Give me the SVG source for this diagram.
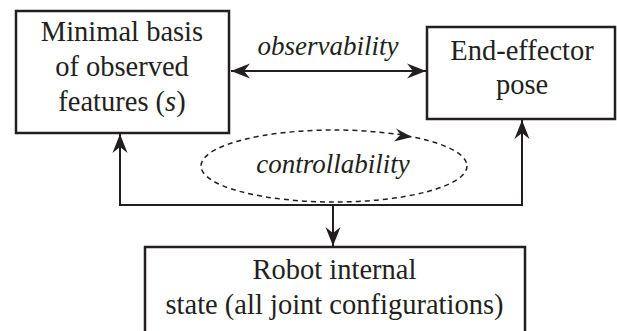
<svg xmlns="http://www.w3.org/2000/svg" width="617" height="331" viewBox="0 0 617 331">
<rect width="617" height="331" fill="#fff"/>
<defs>
<marker id="ah" markerUnits="userSpaceOnUse" markerWidth="22" markerHeight="18" viewBox="-19 -9 22 18" refX="0" refY="0" orient="auto-start-reverse">
<path d="M0,0 L-19,-7.5 L-13,0 L-19,7.5 Z" fill="#231f20"/>
</marker>
</defs>
<g id="connectors" fill="none" stroke="#231f20" stroke-width="2">
<line x1="231" y1="71" x2="426" y2="71" marker-start="url(#ah)" marker-end="url(#ah)"/>
<path d="M120,134 V205 H522 V120" marker-start="url(#ah)" marker-end="url(#ah)"/>
<line x1="333" y1="205" x2="333" y2="246" marker-end="url(#ah)"/>
<ellipse cx="334" cy="166" rx="133" ry="36" stroke-width="1.5" stroke-dasharray="5 4"/>
<path d="M412,137 L396,128.5 L400.5,134.8 L394,141.5 Z" fill="#231f20" stroke="none"/>
</g>
<g id="n1">
<rect x="16" y="11" width="213" height="122" fill="#fff" stroke="#231f20" stroke-width="2.5"/>
<text x="122" y="41" font-family="Liberation Serif, Tinos, Times New Roman, serif" font-size="28.5" fill="#231f20" text-anchor="middle">Minimal basis</text>
<text x="122" y="76" font-family="Liberation Serif, Tinos, Times New Roman, serif" font-size="28.5" fill="#231f20" text-anchor="middle">of observed</text>
<text x="122" y="111" font-family="Liberation Serif, Tinos, Times New Roman, serif" font-size="28.5" fill="#231f20" text-anchor="middle">features (<tspan font-style="italic">s</tspan>)</text>
</g>
<g id="n2">
<rect x="427" y="27" width="188" height="92" fill="#fff" stroke="#231f20" stroke-width="2.5"/>
<text x="522" y="60" font-family="Liberation Serif, Tinos, Times New Roman, serif" font-size="28.5" fill="#231f20" text-anchor="middle">End-effector</text>
<text x="522" y="94" font-family="Liberation Serif, Tinos, Times New Roman, serif" font-size="28.5" fill="#231f20" text-anchor="middle">pose</text>
</g>
<g id="n3">
<rect x="145" y="247" width="380" height="90" fill="#fff" stroke="#231f20" stroke-width="2.5"/>
<text x="334.5" y="279" font-family="Liberation Serif, Tinos, Times New Roman, serif" font-size="28.5" fill="#231f20" text-anchor="middle">Robot internal</text>
<text x="334.5" y="314" font-family="Liberation Serif, Tinos, Times New Roman, serif" font-size="28.5" fill="#231f20" text-anchor="middle">state (all joint configurations)</text>
</g>
<g id="labels">
<text x="328" y="55" font-family="Liberation Serif, Tinos, Times New Roman, serif" font-size="27" font-style="italic" fill="#231f20" text-anchor="middle">observability</text>
<text x="333" y="173" font-family="Liberation Serif, Tinos, Times New Roman, serif" font-size="27" font-style="italic" fill="#231f20" text-anchor="middle">controllability</text>
</g>
</svg>
